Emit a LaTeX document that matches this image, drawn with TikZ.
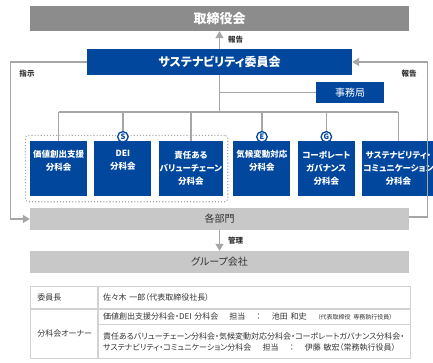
\documentclass[tikz,border=0pt]{standalone}
\usepackage{fontspec}
\setmainfont{Noto Sans CJK JP}[RawFeature=+palt]
\usetikzlibrary{arrows.meta,positioning,fit,backgrounds}
\definecolor{srBlue}{HTML}{00479D}
\definecolor{srGray}{HTML}{8C8C8C}
\definecolor{srLight}{HTML}{C8C8C8}
\definecolor{srLine}{HTML}{A6A6A6}
\definecolor{srRule}{HTML}{D2D2D2}
\definecolor{srInk}{HTML}{333333}
\newcommand{\srSmall}{\fontsize{6}{7}\selectfont}
\newcommand{\srGap}{\hspace{1.4em}}
\tikzset{
  box/.style      ={inner sep=1pt,align=center},
  board/.style    ={box,fill=srGray,text=white,minimum width=379pt,minimum height=25pt,
                    font=\fontsize{13}{15}\selectfont\bfseries},
  committee/.style={box,fill=srBlue,text=white,minimum width=265pt,minimum height=26pt,
                    font=\fontsize{12}{14}\selectfont\bfseries},
  office/.style   ={box,fill=srBlue,text=white,minimum width=68pt,minimum height=21pt,
                    font=\fontsize{10}{12}\selectfont},
  subbox/.style   ={box,fill=srBlue,text=white,minimum width=57pt,minimum height=55pt,
                    font=\fontsize{8.5}{13}\selectfont\bfseries},
  badge/.style    ={circle,draw=srBlue,fill=white,line width=1.3pt,inner sep=0pt,
                    minimum size=10.5pt,text=srBlue,font=\fontsize{7.5}{8}\selectfont\bfseries},
  frame/.style    ={draw=srLine,dotted,line width=1.1pt,rounded corners=3pt,
                    inner xsep=4.5pt,inner ysep=5.5pt},
  dept/.style     ={box,fill=srLight,text=srInk,minimum width=379pt,minimum height=22pt,
                    font=\fontsize{10}{12}\selectfont},
  link/.style     ={srLine,line width=1.3pt},
  arrow/.style    ={link,-{Triangle[length=7pt,width=8pt]}},
  lbl/.style      ={font=\fontsize{7.5}{9}\selectfont\bfseries,text=srInk,inner sep=1pt},
  %% table cells
  cell/.style     ={draw=srRule,line width=0.7pt,anchor=north west,inner ysep=1pt,
                    align=left,text=srInk,font=\fontsize{8}{11}\selectfont},
  cellhead/.style ={cell,minimum width=67pt,inner xsep=7pt,text width=53pt},
  cellbody/.style ={cell,minimum width=312pt,inner xsep=5pt,text width=302pt},
}

\begin{document}
\begin{tikzpicture}[x=1pt,y=-1pt]
\useasboundingbox (0,0) rectangle (433,362);

\node[board] (board) at (219.5,18.5) {取締役会};
\node[committee] (committee) at (219.5,62) {サステナビリティ委員会};
\node[office] (office) at (350,92.5) {事務局};

\node[subbox] (s1) at (58.5,168.5) {価値創出支援\\分科会\\\strut};
\node[subbox,right=7pt of s1] (s2) {DEI\\分科会\\\strut};
\node[subbox,right=7pt of s2] (s3) {責任ある\\バリューチェーン\\分科会};
\node[subbox,right=10pt of s3] (s4) {気候変動対応\\分科会\\\strut};
\node[subbox,right=7pt of s4] (s5) {コーポレート\\ガバナンス\\分科会};
\node[subbox,right=7pt of s5] (s6) {サステナビリティ・\\コミュニケーション\\分科会};

\node[dept] (dept) at (219.5,219) {各部門};
\node[dept] (group) at (219.5,262) {グループ会社};

%% branches from the committee
\coordinate (bus) at (219.5,112);
\draw[link] (committee.south) -- (bus);
\draw[link] (committee.south |- office.west) -- (office.west);
\draw[link] (s1.north |- bus) -- (s6.north |- bus);
\draw[link] (s1.north |- bus) -- (s1.north);
\draw[link] (s2.north |- bus) -- (s2.north);
\draw[link] (s3.north |- bus) -- (s3.north);
\draw[link] (s4.north |- bus) -- (s4.north);
\draw[link] (s5.north |- bus) -- (s5.north);
\draw[link] (s6.north |- bus) -- (s6.north);

\node[frame,fit=(s1)(s3)] (core) {};
\node[badge] (bS) at ([yshift=4pt]s2.north) {S};
\node[badge] (bE) at ([yshift=4pt]s4.north) {E};
\node[badge] (bG) at ([yshift=4pt]s5.north) {G};

\draw[arrow] (committee.north) -- node[lbl,right=7pt]{報告} (board.south);
\draw[arrow] (committee.west) -- ++(-76,0) |- (dept.west);
\draw[arrow] ([yshift=2pt]dept.east) -- ++(18,0) |- (committee.east);
\node[lbl] (order) at (27,74) {指示};
\node[lbl] (report) at (409,74) {報告};
\draw[arrow] (dept.south) -- node[lbl,right=7pt]{管理} (group.north);

%% members table
\node[cellhead,minimum height=22pt] (hChair) at (30,286) {委員長};
\node[cellbody,minimum height=22pt] (bChair) at (hChair.north east) {佐々木 一郎（代表取締役社長）};
\node[cellhead,minimum height=49pt] (hOwner) at (hChair.south west) {分科会オーナー};
\node[cellbody,minimum height=15pt] (bOwnerA) at (hOwner.north east)
  {価値創出支援分科会・DEI 分科会\srGap 担当\srGap ：\srGap 池田 和史\srGap {\srSmall（代表取締役 専務執行役員）}};
\node[cellbody,minimum height=34pt] (bOwnerB) at (bOwnerA.south west)
  {責任あるバリューチェーン分科会・気候変動対応分科会・コーポレートガバナンス分科会・\\
   サステナビリティ・コミュニケーション分科会\srGap 担当\srGap ：\srGap 伊藤 敏宏（常務執行役員）};
\end{tikzpicture}
\end{document}
